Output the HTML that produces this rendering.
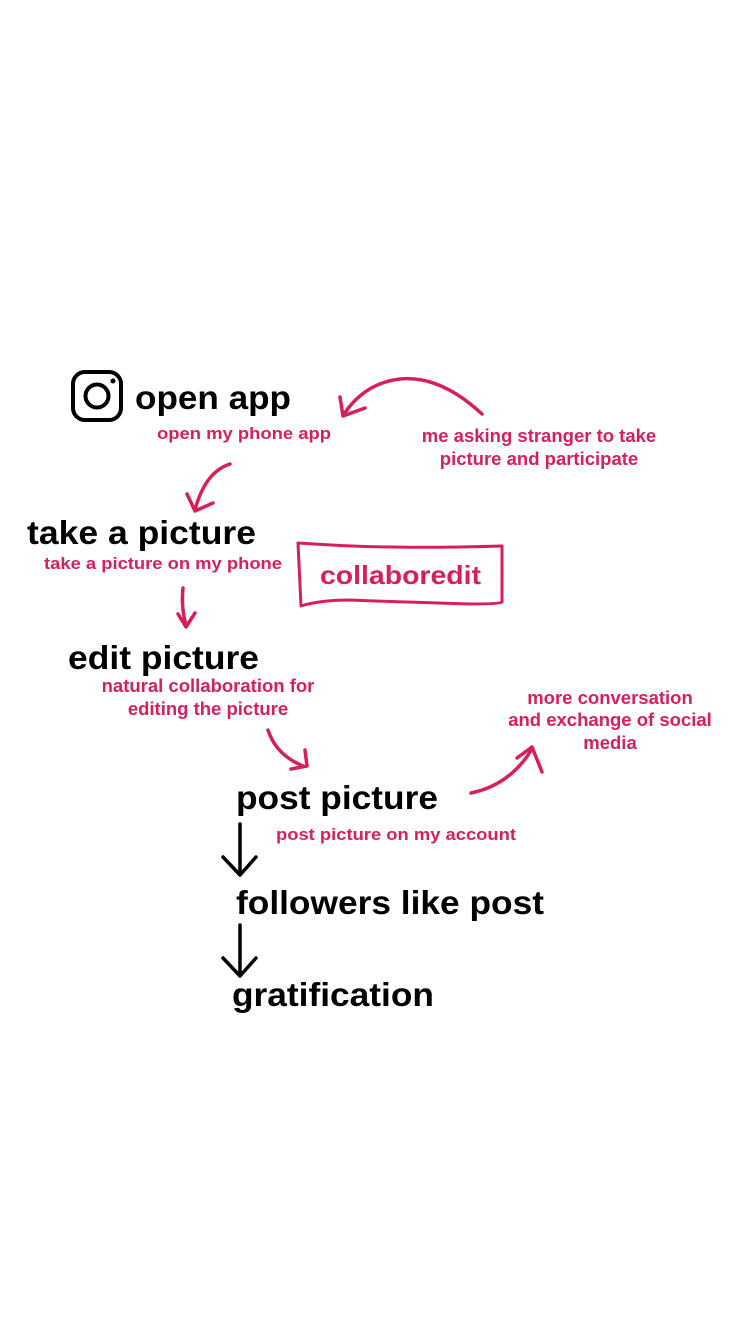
<!DOCTYPE html>
<html><head><meta charset="utf-8"><style>
html,body{margin:0;padding:0;background:#fff;}
svg{display:block;}
text{font-family:"Liberation Sans",sans-serif;font-weight:bold;}
.b{fill:#000;font-size:33px;}
.p{fill:#d81f5c;font-size:17px;}
.c{font-size:18.5px;}
</style></head><body>
<svg width="750" height="1334" viewBox="0 0 750 1334" xmlns="http://www.w3.org/2000/svg">
<rect x="73" y="372" width="48" height="48" rx="12" fill="none" stroke="#000" stroke-width="4"/>
<circle cx="97" cy="396" r="11.5" fill="none" stroke="#000" stroke-width="4"/>
<circle cx="113" cy="381" r="2.5" fill="#000"/>

<text class="b" x="135" y="409" textLength="156" lengthAdjust="spacingAndGlyphs">open app</text>
<text class="p" x="157" y="439" textLength="174" lengthAdjust="spacingAndGlyphs">open my phone app</text>
<text class="p c" x="539" y="442" text-anchor="middle">me asking stranger to take</text>
<text class="p c" x="539" y="465" text-anchor="middle">picture and participate</text>

<text class="b" x="27" y="544" textLength="229" lengthAdjust="spacingAndGlyphs">take a picture</text>
<text class="p" x="44" y="569" textLength="238" lengthAdjust="spacingAndGlyphs">take a picture on my phone</text>

<path d="M298,543 L331,545 Q400,549 502,546 L502,602 Q500,604 470,604 Q400,602 350,600 Q320,600 301,606 Z" fill="none" stroke="#d81f5c" stroke-width="3" stroke-linejoin="round"/>
<text x="320" y="584" fill="#d81f5c" style="font-size:26px" textLength="161" lengthAdjust="spacingAndGlyphs">collaboredit</text>

<text class="b" x="68" y="669" textLength="191" lengthAdjust="spacingAndGlyphs">edit picture</text>
<text class="p c" x="208" y="692" text-anchor="middle">natural collaboration for</text>
<text class="p c" x="208" y="715" text-anchor="middle">editing the picture</text>

<text class="p c" x="610" y="704" text-anchor="middle">more conversation</text>
<text class="p c" x="610" y="726" text-anchor="middle">and exchange of social</text>
<text class="p c" x="610" y="749" text-anchor="middle">media</text>

<text class="b" x="236" y="809" textLength="202" lengthAdjust="spacingAndGlyphs">post picture</text>
<text class="p" x="276" y="840" textLength="240" lengthAdjust="spacingAndGlyphs">post picture on my account</text>
<text class="b" x="236" y="914" textLength="308" lengthAdjust="spacingAndGlyphs">followers like post</text>
<text class="b" x="232" y="1006" textLength="202" lengthAdjust="spacingAndGlyphs">gratification</text>

<g fill="none" stroke="#000" stroke-width="3.5" stroke-linecap="round" stroke-linejoin="round">
<path d="M240,824 L240,874 M223,857 L240,875 L256,857"/>
<path d="M240,925 L240,975 M223,958 L240,976 L256,958"/>
</g>

<g fill="none" stroke="#d81f5c" stroke-width="3.5" stroke-linecap="round" stroke-linejoin="round">
<path d="M482,414 Q440,375 400,379 Q365,383 344,414"/>
<path d="M340,397 L343,416 L365,408"/>
<path d="M230,464 Q205,472 195,510"/>
<path d="M187,494 L195,511 L213,503"/>
<path d="M183,588 Q181,608 186,625"/>
<path d="M178,614 L186,627 L195,613"/>
<path d="M268,730 Q276,755 303,766"/>
<path d="M305,750 L307,766 L291,769"/>
<path d="M471,793 Q510,785 532,749"/>
<path d="M517,758 L532,747 L542,772"/>
</g>
</svg>
</body></html>
